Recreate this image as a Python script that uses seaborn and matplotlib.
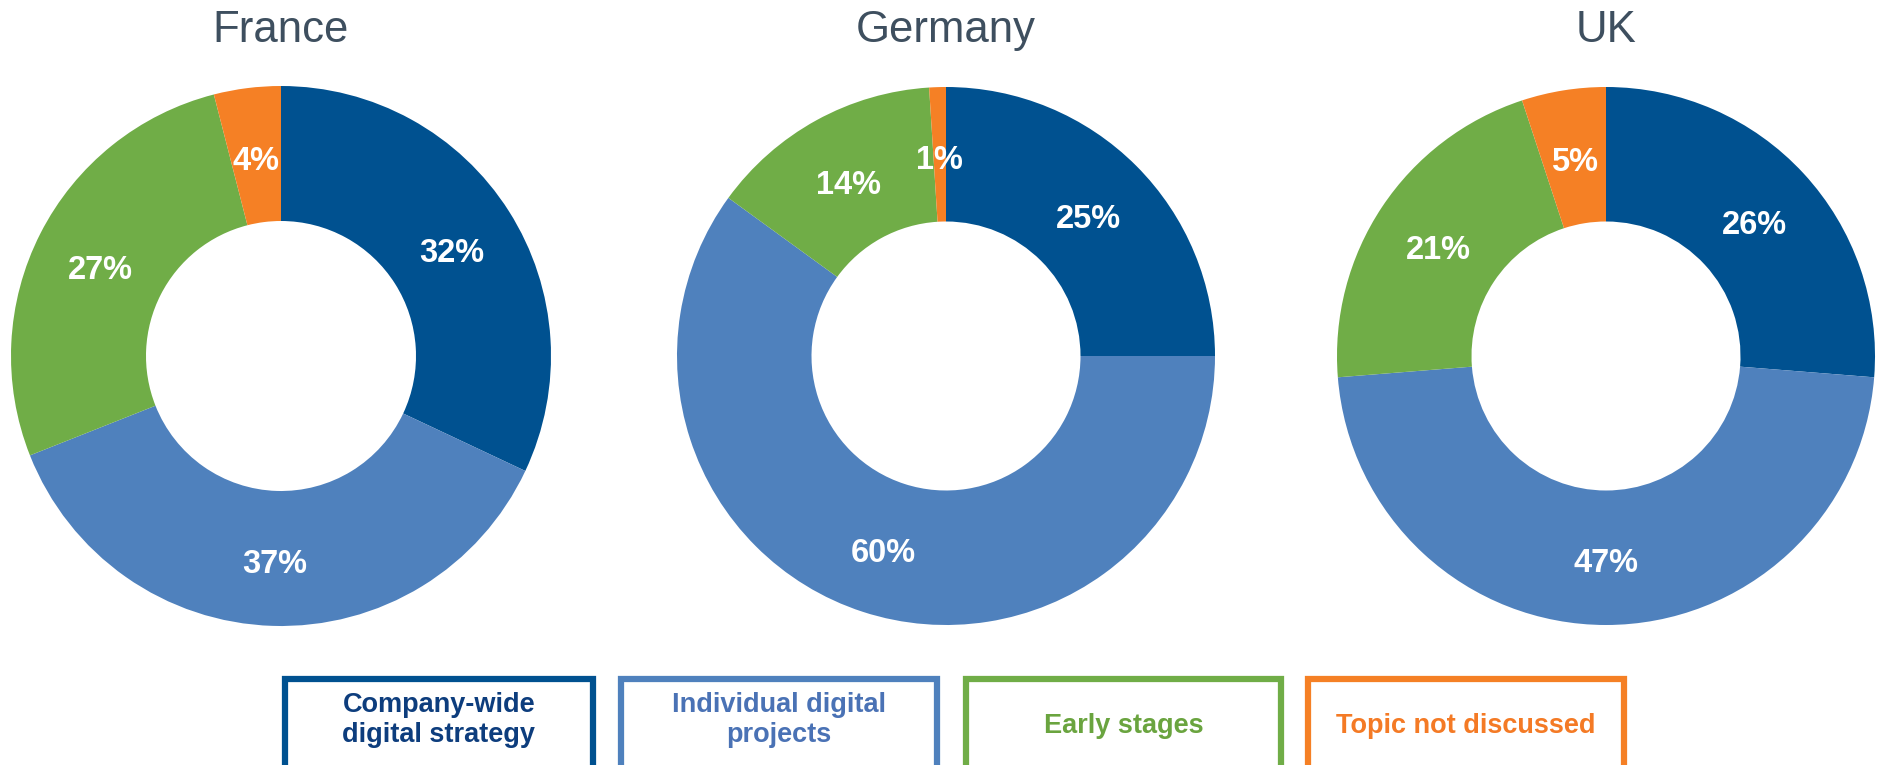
import matplotlib
matplotlib.use("Agg")
import matplotlib.pyplot as plt
import seaborn as sns
from matplotlib.patches import Rectangle

countries = ["France", "Germany", "UK"]
categories = ["Company-wide\ndigital strategy", "Individual digital\nprojects", "Early stages", "Topic not discussed"]
france = [32, 37, 27, 4]
germany = [25, 60, 14, 1]
uk = [26, 47, 21, 5]
values = [france, germany, uk]

sns.set_theme(style="white")
plt.rcParams['font.family'] = ['Liberation Sans', 'DejaVu Sans']

colors = sns.color_palette(["#005190", "#4f81bd", "#70ad47", "#f58025"])
text_colors = ["#0d3d7d", "#4a72b5", "#6aa43f", "#f47a25"]

W, H = 1883, 765
fig = plt.figure(figsize=(W / 100, H / 100), dpi=100)
fig.patch.set_facecolor("white")

centers = [(281, 356, 270), (946, 356, 269), (1606, 356, 269)]
for (cx, cy, r), name, vals in zip(centers, countries, values):
    ax = fig.add_axes([(cx - r) / W, (H - cy - r) / H, 2 * r / W, 2 * r / H])
    wedges, texts = ax.pie(
        vals, colors=colors, startangle=90, counterclock=False,
        labels=[f"{v}%" for v in vals], labeldistance=0.75,
        wedgeprops=dict(width=0.5, edgecolor="none", linewidth=0),
        textprops=dict(color="white", fontsize=23.5, fontweight="bold",
                       ha="center", va="center"),
        radius=1.0,
    )
    for t in texts:
        x, y = t.get_position()
        t.set_position((x, y - 0.022))
    ax.set_xlim(-1, 1)
    ax.set_ylim(-1, 1)
    ax.set_aspect("equal")
    ax.axis("off")
    fig.text(cx / W, 1 - 42 / H, name, ha="center", va="baseline",
             fontsize=31.5, color="#3e4f5f")

boxes = [(285, 593), (621, 937), (966, 1281), (1308, 1624)]
for (x0, x1), lab, c, tc in zip(boxes, categories, colors, text_colors):
    top = 679
    rect = Rectangle((x0 / W, -0.05), (x1 - x0) / W, (H - top) / H + 0.05,
                     transform=fig.transFigure, facecolor="white",
                     edgecolor=c, linewidth=4.5, clip_on=False)
    fig.patches.append(rect)
    yc = 720 if "\n" in lab else 726
    fig.text((x0 + x1) / 2 / W, 1 - yc / H, lab, ha="center", va="center",
             fontsize=19.5, fontweight="bold", color=tc, linespacing=1.25)

fig.savefig("out.png", dpi=100, facecolor="white")
